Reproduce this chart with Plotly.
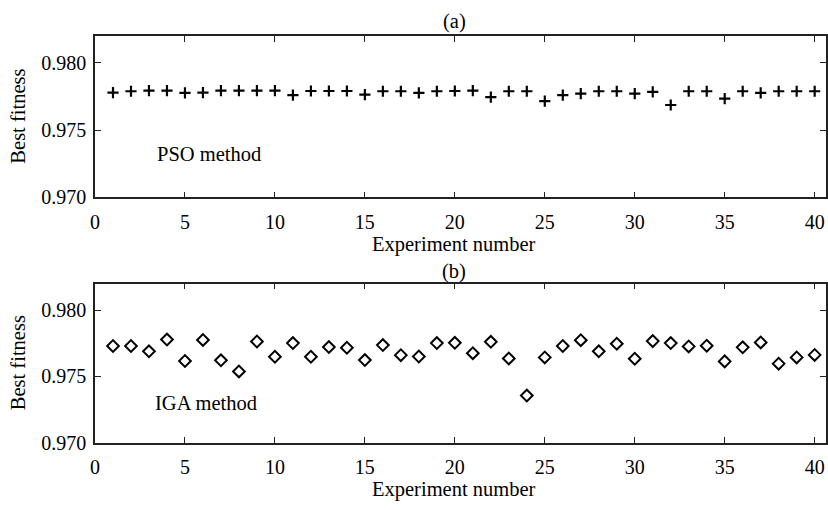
import plotly.graph_objects as go

experiments = list(range(1, 41))
pso_fitness = [0.97779, 0.97789, 0.97794, 0.97794, 0.97777, 0.97779, 0.97794, 0.97794, 0.97794, 0.97794,
               0.97760, 0.97791, 0.97791, 0.97791, 0.97764, 0.97789, 0.97789, 0.97777, 0.97789, 0.97791,
               0.97794, 0.97745, 0.97789, 0.97789, 0.97716, 0.97760, 0.97772, 0.97789, 0.97789, 0.97772,
               0.97784, 0.97687, 0.97789, 0.97789, 0.97735, 0.97789, 0.97777, 0.97789, 0.97789, 0.97789]
iga_fitness = [0.97730, 0.97730, 0.97690, 0.97779, 0.97617, 0.97776, 0.97622, 0.97538, 0.97764, 0.97649,
               0.97752, 0.97649, 0.97722, 0.97717, 0.97624, 0.97737, 0.97661, 0.97651, 0.97752, 0.97754,
               0.97676, 0.97762, 0.97636, 0.97356, 0.97644, 0.97730, 0.97774, 0.97690, 0.97747, 0.97634,
               0.97767, 0.97752, 0.97727, 0.97732, 0.97614, 0.97720, 0.97757, 0.97597, 0.97644, 0.97663]
x_ticks = [0, 5, 10, 15, 20, 25, 30, 35, 40]
y_ticks = [0.970, 0.975, 0.980]
y_tick_text = ["0.970", "0.975", "0.980"]

FONT = "Liberation Serif"
W, H = 828, 510
ML = 95

fig = go.Figure()
fig.add_trace(go.Scatter(x=experiments, y=pso_fitness, mode="markers",
                         marker=dict(symbol="cross-thin-open", size=8, color="black",
                                     line=dict(width=2.2, color="black")),
                         xaxis="x", yaxis="y", showlegend=False))
fig.add_trace(go.Scatter(x=experiments, y=iga_fitness, mode="markers",
                         marker=dict(symbol="diamond-open", size=9, color="black",
                                     line=dict(width=2, color="black")),
                         xaxis="x2", yaxis="y2", showlegend=False))

def py(p):
    return 1 - p / H

def px(p):
    return (p - ML) / (W - ML)

axis_common = dict(showline=True, linecolor="#222", linewidth=1.5, mirror="ticks",
                   ticks="inside", ticklen=6, tickwidth=1.2, tickcolor="#222",
                   showgrid=False, zeroline=False,
                   tickfont=dict(family=FONT, size=20, color="black"))

xr = [0, 40.63]
xa = dict(domain=[0, 1], range=xr, tickvals=x_ticks, ticklabelstandoff=6, **axis_common)
ya = dict(range=[0.970, 0.982], tickvals=y_ticks, ticktext=y_tick_text,
          ticklabelstandoff=3, **axis_common)
fig.update_layout(
    width=W, height=H,
    margin=dict(l=ML, r=0, t=0, b=0),
    paper_bgcolor="white", plot_bgcolor="white",
    font=dict(family=FONT, size=20, color="black"),
    xaxis=dict(anchor="y", **xa),
    yaxis=dict(domain=[py(201.7), py(36.8)], anchor="x", **ya),
    xaxis2=dict(anchor="y2", **xa),
    yaxis2=dict(domain=[py(452.5), py(290)], anchor="x2", **ya),
)

ann = []
def add_text(text, x, y, xanchor="center", angle=0):
    ann.append(dict(text=text, x=px(x), y=py(y), xref="paper", yref="paper",
                    xanchor=xanchor, yanchor="middle", showarrow=False, textangle=angle,
                    font=dict(family=FONT, size=20.5, color="black")))

add_text("(a)", 455, 22)
add_text("(b)", 455, 277)
add_text("Experiment number", 455, 250)
add_text("Experiment number", 455, 500)
add_text("Best fitness", 18, 119, angle=-90)
add_text("Best fitness", 18, 371, angle=-90)
add_text("PSO method", 155, 157, xanchor="left")
add_text("IGA method", 153, 412, xanchor="left")
fig.update_layout(annotations=ann)

fig.write_html("out.html")
